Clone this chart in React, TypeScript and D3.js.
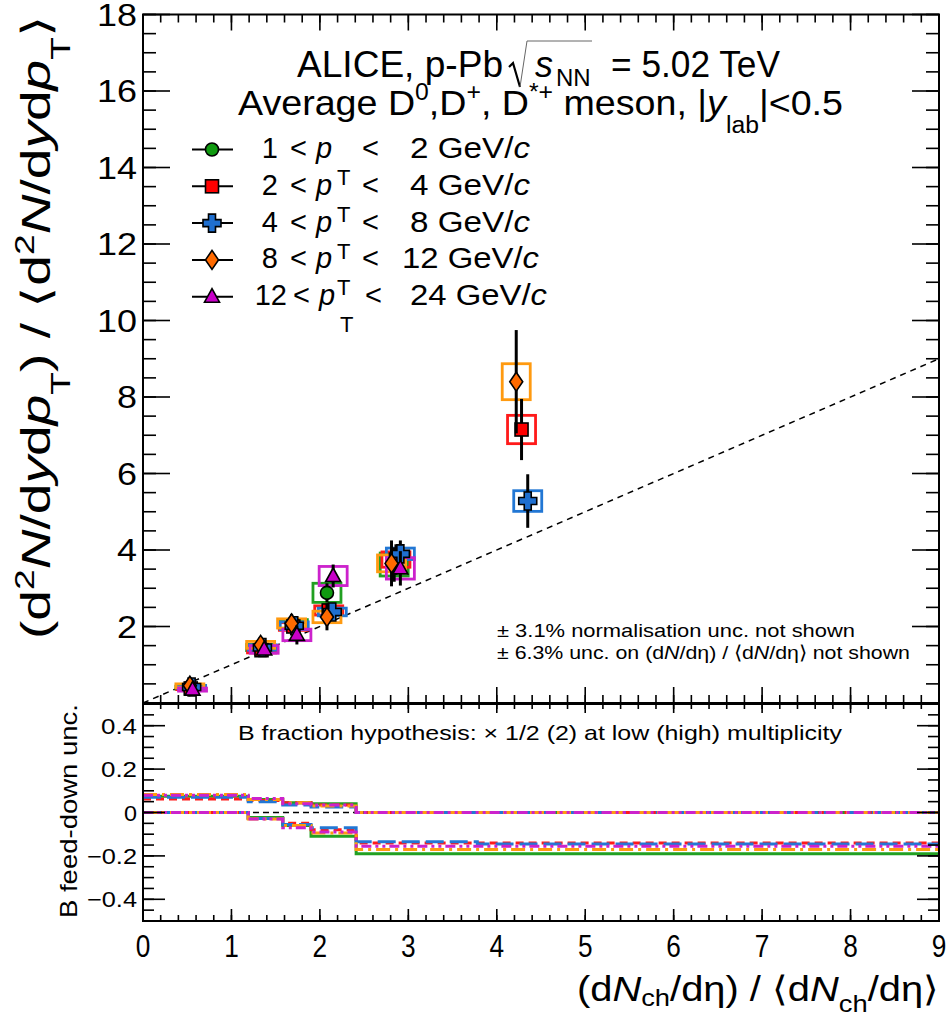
import React from "react";
import { scaleLinear, line, curveStepAfter, range } from "d3";

// multiplicity class bin edges used in the feed-down panel
const multEdges6 = [0, 1.19, 1.58, 1.9, 2.41, 3.78, 9];
const multEdges5 = [0, 1.19, 1.58, 1.9, 2.41, 9];

const ptLow = [1, 2, 4, 8, 12];
const ptHigh = [2, 4, 8, 12, 24];

// 1 < pT < 2
const xPt1 = [0.53, 1.33, 1.7, 2.08, 2.84];
const yPt1 = [0.4, 1.45, 2.06, 2.88, 3.62];
const statPt1 = [0.05, 0.08, 0.15, 0.25, 0.45];
const systPt1 = [0.04, 0.08, 0.12, 0.25, 0.3];
const fdUpPt1 = [0.075, 0.06, 0.045, 0.04, 0];
const fdLowPt1 = [0, -0.023, -0.06, -0.11, -0.19];

// 2 < pT < 4
const xPt2 = [0.54, 1.34, 1.7, 2.1, 2.86, 4.28];
const yPt2 = [0.38, 1.38, 2.0, 2.42, 3.75, 7.15];
const statPt2 = [0.04, 0.07, 0.12, 0.2, 0.4, 0.8];
const systPt2 = [0.03, 0.07, 0.1, 0.12, 0.2, 0.37];
const fdUpPt2 = [0.062, 0.055, 0.045, 0.035, 0, 0];
const fdLowPt2 = [0, -0.028, -0.05, -0.08, -0.14, -0.14];

// 4 < pT < 8
const xPt3 = [0.55, 1.35, 1.71, 2.14, 2.91, 4.35];
const yPt3 = [0.42, 1.45, 2.02, 2.38, 3.9, 5.28];
const statPt3 = [0.05, 0.08, 0.12, 0.2, 0.35, 0.7];
const systPt3 = [0.04, 0.07, 0.1, 0.1, 0.15, 0.27];
const fdUpPt3 = [0.07, 0.05, 0.035, 0.025, 0, 0];
const fdLowPt3 = [0, -0.028, -0.055, -0.07, -0.135, -0.145];

// 8 < pT < 12
const xPt4 = [0.53, 1.33, 1.68, 2.08, 2.81, 4.22];
const yPt4 = [0.45, 1.52, 2.08, 2.25, 3.65, 8.4];
const statPt4 = [0.08, 0.12, 0.25, 0.35, 0.6, 1.35];
const systPt4 = [0.05, 0.09, 0.12, 0.15, 0.22, 0.47];
const fdUpPt4 = [0.083, 0.06, 0.045, 0.03, 0, 0];
const fdLowPt4 = [0, -0.03, -0.06, -0.095, -0.17, -0.17];

// 12 < pT < 24
const xPt5 = [0.56, 1.37, 1.74, 2.15, 2.91];
const yPt5 = [0.35, 1.4, 1.78, 3.32, 3.52];
const statPt5 = [0.1, 0.15, 0.25, 0.3, 0.45];
const systPt5 = [0.04, 0.1, 0.15, 0.25, 0.28];
const fdUpPt5 = [0.08, 0.065, 0.04, 0.035, 0];
const fdLowPt5 = [0, -0.03, -0.07, -0.09, -0.155];

const series = [
  { x: xPt1, y: yPt1, stat: statPt1, syst: systPt1, up: fdUpPt1, low: fdLowPt1, edges: multEdges5,
    marker: "circle", fill: "#109a10", box: "#22a022", dash: "" },
  { x: xPt2, y: yPt2, stat: statPt2, syst: systPt2, up: fdUpPt2, low: fdLowPt2, edges: multEdges6,
    marker: "square", fill: "#ff0000", box: "#ff1a1a", dash: "8,5" },
  { x: xPt3, y: yPt3, stat: statPt3, syst: systPt3, up: fdUpPt3, low: fdLowPt3, edges: multEdges6,
    marker: "cross", fill: "#1f6fd0", box: "#2277d4", dash: "18,6" },
  { x: xPt4, y: yPt4, stat: statPt4, syst: systPt4, up: fdUpPt4, low: fdLowPt4, edges: multEdges6,
    marker: "diamond", fill: "#ff6a00", box: "#ff9a10", dash: "14,5,3,5" },
  { x: xPt5, y: yPt5, stat: statPt5, syst: systPt5, up: fdUpPt5, low: fdLowPt5, edges: multEdges5,
    marker: "triangle", fill: "#c800c8", box: "#cc22cc", dash: "10,4,3,4,3,4" },
];

const W = 950;
const H = 1015;
const L = 143;
const R = 939;
const topY0 = 703;
const topY1 = 14.5;
const botY0 = 921;
const botY1 = 704;

const font = "'Liberation Sans', Arial, Helvetica, sans-serif";

const x = scaleLinear().domain([0, 9]).range([L, R]);
const yTop = scaleLinear().domain([0, 18]).range([topY0, topY1]);
const yBot = scaleLinear().domain([-0.5, 0.5]).range([botY0, botY1]);

const steps = (a: number, b: number, s: number) =>
  range(Math.round((b - a) / s) + 1).map((i) => +(a + i * s).toFixed(4));

function Marker({ kind, cx, cy, fill }: { kind: string; cx: number; cy: number; fill: string }) {
  const st = { fill, stroke: "#000", strokeWidth: 1.6 };
  if (kind === "circle") return <circle cx={cx} cy={cy} r={6.5} {...st} />;
  if (kind === "square") return <rect x={cx - 6.5} y={cy - 6.5} width={13} height={13} {...st} />;
  if (kind === "cross") {
    const a = 9, t = 3.5;
    const d = `M${cx - t},${cy - a}H${cx + t}V${cy - t}H${cx + a}V${cy + t}H${cx + t}V${cy + a}H${cx - t}V${cy + t}H${cx - a}V${cy - t}H${cx - t}Z`;
    return <path d={d} {...st} />;
  }
  if (kind === "diamond")
    return <path d={`M${cx},${cy - 9.5}L${cx + 6.5},${cy}L${cx},${cy + 9.5}L${cx - 6.5},${cy}Z`} {...st} />;
  return <path d={`M${cx},${cy - 8}L${cx + 7.5},${cy + 5.5}L${cx - 7.5},${cy + 5.5}Z`} {...st} />;
}

function TickSet({ vals, pos, horiz, from, len, dir }: any) {
  return (
    <g stroke="#000" strokeWidth={1.6}>
      {vals.map((v: number, i: number) => {
        const p = pos(v);
        return horiz ? (
          <line key={i} x1={p} x2={p} y1={from} y2={from + dir * len} />
        ) : (
          <line key={i} y1={p} y2={p} x1={from} x2={from + dir * len} />
        );
      })}
    </g>
  );
}

const stepLine = line<[number, number]>()
  .x((d) => x(d[0]))
  .y((d) => yBot(d[1]))
  .curve(curveStepAfter);

function stepPoints(edges: number[], vals: number[]): [number, number][] {
  const pts: [number, number][] = vals.map((v, i) => [edges[i], v]);
  pts.push([edges[edges.length - 1], vals[vals.length - 1]]);
  return pts;
}

const fmtBot = (v: number) => (v === 0 ? "0" : (v < 0 ? "\u2212" : "") + Math.abs(v).toFixed(1));

export default function App() {
  const xMajor = steps(0, 9, 1);
  const xMinor = steps(0, 9, 0.2);
  const yMajor = steps(0, 18, 2);
  const yMinor = steps(0, 18, 0.5);
  const bMajor = steps(-0.4, 0.4, 0.2);
  const bMinor = steps(-0.5, 0.5, 0.05);
  const legendBase = ptLow.map((_, i) => 158 + i * 36.8);

  return (
    <svg
      width={W}
      height={H}
      style={{ position: "absolute", left: 0, top: 0, background: "#fff" }}
      fontFamily={font}
    >
      <rect width={W} height={H} fill="#fff" />

      {/* ---- top panel ---- */}
      <line
        x1={x(0)} y1={yTop(0)} x2={x(9)} y2={yTop(9)}
        stroke="#000" strokeWidth={1.5} strokeDasharray="6,5"
      />

      {series.map((s, si) => (
        <g key={"box" + si} fill="none" stroke={s.box} strokeWidth={2.8}>
          {s.x.map((xv, i) => (
            <rect
              key={i}
              x={x(xv) - 14}
              y={yTop(s.y[i] + s.syst[i])}
              width={28}
              height={yTop(s.y[i] - s.syst[i]) - yTop(s.y[i] + s.syst[i])}
            />
          ))}
        </g>
      ))}

      {series.map((s, si) => (
        <g key={"pt" + si}>
          {s.x.map((xv, i) => (
            <line
              key={"e" + i}
              x1={x(xv)} x2={x(xv)}
              y1={yTop(s.y[i] - s.stat[i])} y2={yTop(s.y[i] + s.stat[i])}
              stroke="#000" strokeWidth={3}
            />
          ))}
          {s.x.map((xv, i) => (
            <Marker key={"m" + i} kind={s.marker} cx={x(xv)} cy={yTop(s.y[i])} fill={s.fill} />
          ))}
        </g>
      ))}

      {/* frame + ticks top */}
      <rect x={L} y={topY1} width={R - L} height={topY0 - topY1} fill="none" stroke="#000" strokeWidth={2} />
      <TickSet vals={yMajor} pos={yTop} from={L} len={27} dir={1} />
      <TickSet vals={yMinor} pos={yTop} from={L} len={13} dir={1} />
      <TickSet vals={yMajor} pos={yTop} from={R} len={27} dir={-1} />
      <TickSet vals={yMinor} pos={yTop} from={R} len={13} dir={-1} />
      <TickSet vals={xMajor} pos={x} horiz from={topY0} len={16} dir={-1} />
      <TickSet vals={xMinor} pos={x} horiz from={topY0} len={8} dir={-1} />
      <TickSet vals={xMajor} pos={x} horiz from={topY1} len={16} dir={1} />
      <TickSet vals={xMinor} pos={x} horiz from={topY1} len={8} dir={1} />

      {yMajor.filter((v) => v > 0).map((v) => (
        <text
          key={v} x={137} y={yTop(v) + 11} textAnchor="end" fontSize={31}
          textLength={v >= 10 ? 40 : 20} lengthAdjust="spacingAndGlyphs"
        >
          {v}
        </text>
      ))}

      {/* header */}
      <text x={297} y={77} fontSize={36} textLength={206} lengthAdjust="spacingAndGlyphs">
        ALICE, p-Pb
      </text>
      <path d="M509,67 L513,63 L520,87" fill="none" stroke="#000" strokeWidth={2.2} />
      <path d="M520,87 L527,41 L592,41" fill="none" stroke="#666" strokeWidth={1} />
      <text x={535} y={77} fontSize={36} fontStyle="italic">s</text>
      <text x={556} y={86} fontSize={24}>NN</text>
      <text x={611} y={77} fontSize={36} textLength={169} lengthAdjust="spacingAndGlyphs">
        = 5.02 TeV
      </text>
      <text
        x={238} y={115} fontSize={35} textLength={605} lengthAdjust="spacingAndGlyphs"
        style={{ whiteSpace: "pre" }}
      >
        Average D<tspan dy={-15} fontSize={23}>0</tspan>
        <tspan dy={15}>,D</tspan>
        <tspan dy={-15} fontSize={23}>+</tspan>
        <tspan dy={15}>, D</tspan>
        <tspan dy={-15} fontSize={23}>*+</tspan>
        <tspan dy={15}>{" meson, |"}</tspan>
        <tspan fontStyle="italic">y</tspan>
        <tspan dy={18} fontSize={23}>lab</tspan>
        <tspan dy={-18}>|&lt;0.5</tspan>
      </text>

      {/* legend */}
      {series.map((s, i) => {
        const b = legendBase[i];
        const lo = ptLow[i];
        const hi = ptHigh[i];
        const last = i === ptLow.length - 1;
        return (
          <g key={"leg" + i} fontSize={29}>
            <line x1={192} x2={233} y1={b - 8.5} y2={b - 8.5} stroke="#000" strokeWidth={2} />
            <Marker kind={s.marker} cx={212} cy={b - 8.5} fill={s.fill} />
            <text x={lo >= 10 ? 287 : 278} y={b} textAnchor="end">{lo}</text>
            <text x={last ? 293 : 290} y={b}>&lt;</text>
            <text x={last ? 319 : 316} y={b} fontStyle="italic">p</text>
            <text x={last ? 340 : 337} y={b + 27} fontSize={22}>T</text>
            <text x={last ? 365 : 362} y={b}>&lt;</text>
            <text
              x={last ? 410 : hi >= 10 ? 402 : 410} y={b}
              textLength={hi >= 10 ? 137 : 120} lengthAdjust="spacingAndGlyphs"
            >
              {hi} GeV/<tspan fontStyle="italic">c</tspan>
            </text>
          </g>
        );
      })}

      {/* notes */}
      <text x={497} y={637} fontSize={19} textLength={358} lengthAdjust="spacingAndGlyphs">
        ± 3.1% normalisation unc. not shown
      </text>
      <text
        x={497} y={659} fontSize={19} textLength={413} lengthAdjust="spacingAndGlyphs"
        style={{ whiteSpace: "pre" }}
      >
        ± 6.3% unc. on (d<tspan fontStyle="italic">N</tspan>/dη) / ⟨d
        <tspan fontStyle="italic">N</tspan>/dη⟩ not shown
      </text>

      {/* y title top */}
      <text
        transform={`translate(50,15) rotate(-90)`}
        textAnchor="end" fontSize={40} textLength={624} lengthAdjust="spacingAndGlyphs"
      >
        (d<tspan dy={-16} fontSize={27}>2</tspan>
        <tspan dy={16} fontStyle="italic">N</tspan>/d<tspan fontStyle="italic">y</tspan>d
        <tspan fontStyle="italic">p</tspan>
        <tspan dy={20} fontSize={27}>T</tspan>
        <tspan dy={-20}>) / ⟨d</tspan>
        <tspan dy={-16} fontSize={27}>2</tspan>
        <tspan dy={16} fontStyle="italic">N</tspan>/d<tspan fontStyle="italic">y</tspan>d
        <tspan fontStyle="italic">p</tspan>
        <tspan dy={20} fontSize={27}>T</tspan>
        <tspan dy={-20}>⟩</tspan>
      </text>

      {/* ---- bottom panel ---- */}
      <line x1={L} x2={R} y1={yBot(0)} y2={yBot(0)} stroke="#000" strokeWidth={1.5} strokeDasharray="6,4" />
      {series.map((s, si) => (
        <g key={"fd" + si} fill="none" stroke={s.box} strokeWidth={3} strokeDasharray={s.dash}>
          <path d={stepLine(stepPoints(s.edges, s.up)) || ""} />
          <path d={stepLine(stepPoints(s.edges, s.low)) || ""} />
        </g>
      ))}

      <rect x={L} y={botY1} width={R - L} height={botY0 - botY1} fill="none" stroke="#000" strokeWidth={2} />
      <TickSet vals={bMajor} pos={yBot} from={L} len={22} dir={1} />
      <TickSet vals={bMinor} pos={yBot} from={L} len={11} dir={1} />
      <TickSet vals={bMajor} pos={yBot} from={R} len={22} dir={-1} />
      <TickSet vals={bMinor} pos={yBot} from={R} len={11} dir={-1} />
      <TickSet vals={xMajor} pos={x} horiz from={botY0} len={12} dir={-1} />
      <TickSet vals={xMinor} pos={x} horiz from={botY0} len={6} dir={-1} />
      <TickSet vals={xMajor} pos={x} horiz from={botY1} len={9} dir={1} />
      <TickSet vals={xMinor} pos={x} horiz from={botY1} len={5} dir={1} />

      {bMajor.map((v) => (
        <text
          key={v} x={137} y={yBot(v) + 8} textAnchor="end" fontSize={22}
          textLength={v === 0 ? 13 : v < 0 ? 50 : 36} lengthAdjust="spacingAndGlyphs"
        >
          {fmtBot(v)}
        </text>
      ))}

      <text x={238} y={740} fontSize={21} textLength={604} lengthAdjust="spacingAndGlyphs">
        B fraction hypothesis: × 1/2 (2) at low (high) multiplicity
      </text>

      <text
        transform={`translate(77,704) rotate(-90)`}
        textAnchor="end" fontSize={24} textLength={214} lengthAdjust="spacingAndGlyphs"
      >
        B feed-down unc.
      </text>

      {xMajor.map((v) => (
        <text
          key={v} transform={`translate(${x(v)},957) scale(0.82,1)`}
          textAnchor="middle" fontSize={32}
        >
          {v}
        </text>
      ))}

      <text
        x={939} y={1001} textAnchor="end" fontSize={35} textLength={362} lengthAdjust="spacingAndGlyphs"
        style={{ whiteSpace: "pre" }}
      >
        (d<tspan fontStyle="italic">N</tspan>
        <tspan dy={5} fontSize={24}>ch</tspan>
        <tspan dy={-5}>/dη) / ⟨d</tspan>
        <tspan fontStyle="italic">N</tspan>
        <tspan dy={11} fontSize={24}>ch</tspan>
        <tspan dy={-11}>/dη⟩</tspan>
      </text>
    </svg>
  );
}
